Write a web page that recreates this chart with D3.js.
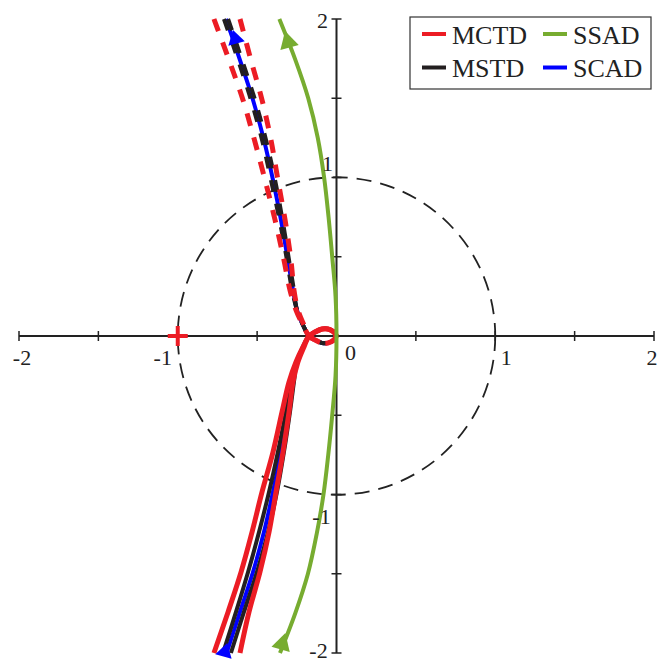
<!DOCTYPE html>
<html>
<head>
<meta charset="utf-8">
<script src="https://cdn.jsdelivr.net/npm/d3@7"></script>
<style>
  body { margin: 0; background: #fff; }
  svg { display: block; }
  text { font-family: "Liberation Serif", "Times New Roman", serif; fill: #222; }
</style>
</head>
<body>
<div id="chart"></div>
<script>
// ---- data (real / imaginary parts read off the plot) ----
// loop near the origin, shared by every curve
const loopDashed = [[-0.173, 0], [-0.135, -0.025], [-0.091, -0.044], [-0.054, -0.044], [-0.016, -0.025], [0, 0]];
const loopSolid  = [[0, 0], [-0.016, 0.025], [-0.054, 0.044], [-0.091, 0.044], [-0.135, 0.025], [-0.173, 0]];

// SCAD (blue)
const scadUpper = [[-0.696, 2.0], [-0.608, 1.741], [-0.526, 1.489], [-0.457, 1.237], [-0.400, 0.984],
  [-0.350, 0.732], [-0.306, 0.479], [-0.274, 0.290], [-0.249, 0.164], [-0.211, 0.069]];
const scadLower = [[-0.211, -0.069], [-0.249, -0.164], [-0.274, -0.290], [-0.306, -0.479], [-0.350, -0.732],
  [-0.400, -0.984], [-0.457, -1.237], [-0.526, -1.489], [-0.608, -1.741], [-0.692, -2.0]];

// MCTD (red) - two bounds
const mctdUpperA = [[-0.772, 2.0], [-0.677, 1.741], [-0.589, 1.489], [-0.517, 1.237], [-0.450, 0.984],
  [-0.387, 0.732], [-0.331, 0.479], [-0.293, 0.290], [-0.255, 0.164], [-0.211, 0.069]];
const mctdUpperB = [[-0.608, 2.0], [-0.539, 1.741], [-0.469, 1.489], [-0.413, 1.237], [-0.369, 0.984],
  [-0.324, 0.732], [-0.287, 0.479], [-0.268, 0.290], [-0.243, 0.164], [-0.205, 0.069]];
const mctdLowerA = [[-0.211, -0.069], [-0.255, -0.164], [-0.299, -0.290], [-0.343, -0.479], [-0.400, -0.732],
  [-0.469, -0.984], [-0.532, -1.237], [-0.601, -1.489], [-0.683, -1.741], [-0.772, -2.0]];
const mctdLowerB = [[-0.205, -0.069], [-0.243, -0.164], [-0.274, -0.290], [-0.299, -0.479], [-0.337, -0.732],
  [-0.381, -0.984], [-0.425, -1.237], [-0.482, -1.489], [-0.551, -1.741], [-0.608, -2.0]];

// MSTD (black) - two bounds
const mstdUpperA = [[-0.709, 2.0], [-0.620, 1.741], [-0.539, 1.489], [-0.469, 1.237], [-0.413, 0.984],
  [-0.359, 0.732], [-0.312, 0.479], [-0.280, 0.290], [-0.249, 0.164], [-0.211, 0.069]];
const mstdUpperB = [[-0.683, 2.0], [-0.595, 1.741], [-0.513, 1.489], [-0.444, 1.237], [-0.387, 0.984],
  [-0.340, 0.732], [-0.299, 0.479], [-0.268, 0.290], [-0.249, 0.164], [-0.211, 0.069]];
const mstdLowerA = [[-0.211, -0.069], [-0.249, -0.164], [-0.280, -0.290], [-0.318, -0.479], [-0.369, -0.732],
  [-0.425, -0.984], [-0.488, -1.237], [-0.557, -1.489], [-0.633, -1.741], [-0.715, -2.0]];
const mstdLowerB = [[-0.211, -0.069], [-0.249, -0.164], [-0.268, -0.290], [-0.293, -0.479], [-0.331, -0.732],
  [-0.375, -0.984], [-0.431, -1.237], [-0.501, -1.489], [-0.583, -1.741], [-0.665, -2.0]];

// SSAD (green)
const ssadCurve = [[-0.356, -2.0], [-0.260, -1.75], [-0.180, -1.5], [-0.125, -1.25], [-0.082, -1.0],
  [-0.052, -0.75], [-0.027, -0.5], [-0.006, -0.25], [0, 0], [-0.006, 0.25], [-0.027, 0.5], [-0.050, 0.75],
  [-0.078, 1.0], [-0.118, 1.25], [-0.178, 1.5], [-0.262, 1.75], [-0.360, 2.0]];

// arrow heads: [tip, point behind the tip on the curve]
const ssadArrows = [[[-0.324, 1.924], [-0.290, 1.80]], [[-0.322, -1.874], [-0.356, -1.990]]];
const scadArrows = [[[-0.652, 1.931], [-0.628, 1.840]], [[-0.688, -1.937], [-0.706, -2.0]]];

const criticalPoint = [-1, 0];

const axisTicks = [-2, -1.5, -1, -0.5, 0.5, 1, 1.5, 2];
const xLabelVals = [-2, -1, 1, 2];
const yLabelVals = [2, 1, -1, -2];

const legendNames = ["MCTD", "MSTD", "SSAD", "SCAD"];
const colors = { MCTD: "#ec1c24", MSTD: "#231f20", SSAD: "#77ac30", SCAD: "#0000ff" };

// ---- chart ----
const W = 657, H = 662;
const svg = d3.select("#chart").append("svg").attr("width", W).attr("height", H);

const x = d3.scaleLinear().domain([-2, 2]).range([19, 654]);
const y = d3.scaleLinear().domain([-2, 2]).range([653, 19]);

const line = d3.line().x(d => x(d[0])).y(d => y(d[1])).curve(d3.curveCatmullRom.alpha(0.5));

// unit circle
svg.append("circle")
  .attr("cx", x(0)).attr("cy", y(0)).attr("r", x(1) - x(0))
  .attr("fill", "none").attr("stroke", "#222").attr("stroke-width", 1.8)
  .attr("stroke-dasharray", "15,9");

// axes through origin
const axisG = svg.append("g").attr("stroke", "#222").attr("stroke-width", 2);
axisG.append("line").attr("x1", x(-2)).attr("x2", x(2)).attr("y1", y(0)).attr("y2", y(0));
axisG.append("line").attr("x1", x(0)).attr("x2", x(0)).attr("y1", y(-2)).attr("y2", y(2));
axisG.selectAll(".xt").data(axisTicks).enter().append("line")
  .attr("x1", d => x(d)).attr("x2", d => x(d)).attr("y1", y(0) - 5).attr("y2", y(0) + 5).attr("stroke-width", 1.5);
axisG.selectAll(".yt").data(axisTicks).enter().append("line")
  .attr("y1", d => y(d)).attr("y2", d => y(d)).attr("x1", x(0) - 5).attr("x2", x(0) + 5).attr("stroke-width", 1.5);

// curves
function drawPath(data, color, width, dash) {
  const p = svg.append("path").datum(data).attr("d", line)
    .attr("fill", "none").attr("stroke", color).attr("stroke-width", width)
    .attr("stroke-linejoin", "round");
  if (dash) p.attr("stroke-dasharray", dash);
}
drawPath(scadUpper.concat(loopDashed), colors.SCAD, 4);
drawPath(loopSolid.concat(scadLower), colors.SCAD, 4);
drawPath(mstdUpperA.concat(loopDashed), colors.MSTD, 4, "12,12");
drawPath(mstdUpperB.concat(loopDashed), colors.MSTD, 4, "12,12");
drawPath(loopSolid.concat(mstdLowerA), colors.MSTD, 4);
drawPath(loopSolid.concat(mstdLowerB), colors.MSTD, 4);
drawPath(mctdUpperA.concat(loopDashed), colors.MCTD, 5, "13,12");
drawPath(mctdUpperB.concat(loopDashed), colors.MCTD, 5, "13,12");
drawPath(loopSolid.concat(mctdLowerA), colors.MCTD, 5);
drawPath(loopSolid.concat(mctdLowerB), colors.MCTD, 5);
drawPath(ssadCurve, colors.SSAD, 4);

// arrow heads
function arrowHead(a, len, wid, color) {
  const tx = x(a[0][0]), ty = y(a[0][1]), bx = x(a[1][0]), by = y(a[1][1]);
  const L = Math.hypot(tx - bx, ty - by), ux = (tx - bx) / L, uy = (ty - by) / L;
  const cx = tx - ux * len, cy = ty - uy * len;
  const pts = [[tx, ty], [cx - uy * wid / 2, cy + ux * wid / 2], [cx + uy * wid / 2, cy - ux * wid / 2]];
  svg.append("polygon").attr("points", pts.map(p => p.join(",")).join(" ")).attr("fill", color);
}
ssadArrows.forEach(a => arrowHead(a, 17, 19, colors.SSAD));
scadArrows.forEach(a => arrowHead(a, 14, 17, colors.SCAD));

// critical point
const cp = svg.append("g").attr("stroke", colors.MCTD).attr("stroke-width", 4);
cp.append("line").attr("x1", x(criticalPoint[0]) - 10).attr("x2", x(criticalPoint[0]) + 10)
  .attr("y1", y(criticalPoint[1])).attr("y2", y(criticalPoint[1]));
cp.append("line").attr("x1", x(criticalPoint[0])).attr("x2", x(criticalPoint[0]))
  .attr("y1", y(criticalPoint[1]) - 10).attr("y2", y(criticalPoint[1]) + 10);

// tick labels
const xLabelDx = { "-2": 3, "-1": -15, "1": 11, "2": -2 };
svg.selectAll(".xl").data(xLabelVals).enter().append("text")
  .attr("x", d => x(d) + xLabelDx[d]).attr("y", y(0) + 29)
  .attr("text-anchor", "middle").attr("font-size", 22).text(d => d);
const yLabelOff = { "2": [-14, 9], "1": [-9, -7], "-1": [-15, 29], "-2": [-18, 5] };
svg.selectAll(".yl").data(yLabelVals).enter().append("text")
  .attr("x", d => x(0) + yLabelOff[d][0]).attr("y", d => y(d) + yLabelOff[d][1])
  .attr("text-anchor", "middle").attr("font-size", 22).text(d => d);
svg.append("text").attr("x", x(0) + 14).attr("y", y(0) + 24)
  .attr("text-anchor", "middle").attr("font-size", 22).text("0");

// legend
const lg = svg.append("g").attr("transform", "translate(410,17)");
lg.append("rect").attr("width", 241).attr("height", 72)
  .attr("fill", "#fff").attr("stroke", "#333").attr("stroke-width", 1.2);
legendNames.forEach((name, i) => {
  const col = Math.floor(i / 2), row = i % 2;
  const gx = 12 + col * 121, gy = 17 + row * 33.5;
  lg.append("line").attr("x1", gx).attr("x2", gx + 24).attr("y1", gy).attr("y2", gy)
    .attr("stroke", colors[name]).attr("stroke-width", 4);
  lg.append("text").attr("x", gx + 30).attr("y", gy + 9.5).attr("font-size", 26).text(name);
});
</script>
</body>
</html>
